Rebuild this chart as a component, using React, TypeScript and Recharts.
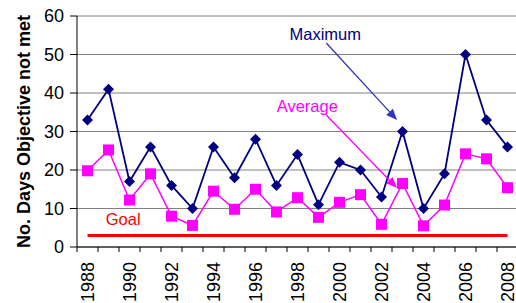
import { LineChart, Line, XAxis, YAxis, CartesianGrid, ReferenceLine, ReferenceDot } from "recharts";

const years = [1988, 1989, 1990, 1991, 1992, 1993, 1994, 1995, 1996, 1997, 1998, 1999, 2000, 2001, 2002, 2003, 2004, 2005, 2006, 2007, 2008];
const maximum = [33, 41, 17, 26, 16, 10, 26, 18, 28, 16, 24, 11, 22, 20, 13, 30, 10, 19, 50, 33, 26];
const average = [19.8, 25.2, 12.2, 19, 8, 5.6, 14.5, 9.8, 15, 9.1, 12.8, 7.7, 11.6, 13.6, 5.9, 16.5, 5.5, 10.9, 24.2, 22.9, 15.4];
const goal = 3;
const yTicks = [0, 10, 20, 30, 40, 50, 60];

const data = years.map((year, i) => ({
  year,
  maximum: maximum[i],
  average: average[i],
  goal,
}));

// boundaries (tick marks) and year centres (labels)
const xTicks = years.flatMap((y) => [y - 0.5, y]).concat([years[years.length - 1] + 0.5]);

const FONT = "Arial, 'Liberation Sans', sans-serif";
const TICK_SIZE = 5;
const TICK_GAP = 10;

function YearTick(props: any) {
  const { x, y, payload } = props;
  const v = payload.value as number;
  if (v % 1 !== 0) {
    return <line x1={x} x2={x} y1={y - TICK_GAP - TICK_SIZE} y2={y - TICK_GAP} stroke="#000" strokeWidth={1} />;
  }
  if (v % 2 !== 0) return null;
  return (
    <text
      x={x}
      y={y}
      dy="0.36em"
      transform={`rotate(-90, ${x}, ${y})`}
      textAnchor="end"
      fontSize={18}
      fontFamily={FONT}
      fill="#000"
    >
      {v}
    </text>
  );
}

function Diamond(props: any) {
  const { cx, cy } = props;
  if (cx == null || cy == null) return null;
  const r = 5.5;
  return <polygon points={`${cx},${cy - r} ${cx + r},${cy} ${cx},${cy + r} ${cx - r},${cy}`} fill="#000080" />;
}

function Square(props: any) {
  const { cx, cy } = props;
  if (cx == null || cy == null) return null;
  const s = 11;
  return <rect x={cx - s / 2} y={cy - s / 2} width={s} height={s} fill="#FF00FF" />;
}

function arrowNote(text: string, textColor: string, arrowColor: string, textDx: number) {
  return (props: any) => {
    const { x1, y1, x2, y2 } = props;
    const ang = Math.atan2(y2 - y1, x2 - x1);
    const len = 11;
    const half = 4.5;
    const bx = x2 - len * Math.cos(ang);
    const by = y2 - len * Math.sin(ang);
    const px = -Math.sin(ang) * half;
    const py = Math.cos(ang) * half;
    return (
      <g>
        <line x1={x1} y1={y1} x2={bx} y2={by} stroke={arrowColor} strokeWidth={1.3} />
        <polygon points={`${x2},${y2} ${bx + px},${by + py} ${bx - px},${by - py}`} fill={arrowColor} />
        <text x={x1 + textDx} y={y1 - 2.5} textAnchor="middle" fontSize={16.5} fontFamily={FONT} fill={textColor}>
          {text}
        </text>
      </g>
    );
  };
}

function GoalText(props: any) {
  const { cx, cy } = props;
  return (
    <text x={cx} y={cy} textAnchor="middle" fontSize={16.5} fontFamily={FONT} fill="#FF0000">
      Goal
    </text>
  );
}

export default function App() {
  return (
    <div style={{ position: "absolute", left: 0, top: 0, width: 516, height: 303, overflow: "hidden", background: "#fff" }}>
      <LineChart width={518} height={303} data={data} margin={{ top: 16, right: 0, bottom: 0, left: 0 }}>
        <CartesianGrid vertical={false} stroke="#808080" strokeWidth={1} />
        <XAxis
          dataKey="year"
          type="number"
          domain={[1987.5, 2008.5]}
          ticks={xTicks}
          interval={0}
          tick={<YearTick />}
          tickLine={false}
          tickSize={TICK_SIZE}
          tickMargin={TICK_GAP}
          height={56}
          axisLine={{ stroke: "#000", strokeWidth: 1 }}
        />
        <YAxis
          domain={[0, 60]}
          ticks={yTicks}
          interval={0}
          width={77}
          tickSize={7}
          tickMargin={6}
          tick={{ fontSize: 18, fontFamily: FONT, fill: "#000" }}
          tickLine={{ stroke: "#000" }}
          axisLine={{ stroke: "#000", strokeWidth: 1 }}
          label={{
            value: "No. Days Objective not met",
            angle: -90,
            position: "insideLeft",
            offset: 24,
            style: { textAnchor: "middle", fontSize: 18, fontWeight: "bold", fontFamily: FONT, fill: "#000" },
          }}
        />
        <Line dataKey="goal" stroke="#FF0000" strokeWidth={3} dot={false} isAnimationActive={false} />
        <Line dataKey="average" stroke="#FF00FF" strokeWidth={1.5} dot={<Square />} isAnimationActive={false} />
        <Line dataKey="maximum" stroke="#000080" strokeWidth={1.8} dot={<Diamond />} isAnimationActive={false} />
        <ReferenceLine
          segment={[{ x: 1999.37, y: 53 }, { x: 2002.74, y: 33 }]}
          ifOverflow="visible"
          shape={arrowNote("Maximum", "#000080", "#3333BB", -1)}
        />
        <ReferenceLine
          segment={[{ x: 1999.37, y: 34.3 }, { x: 2002.74, y: 15.3 }]}
          ifOverflow="visible"
          shape={arrowNote("Average", "#FF00FF", "#FF00FF", -19)}
        />
        <ReferenceDot x={1989.7} y={5.7} ifOverflow="visible" shape={<GoalText />} />
      </LineChart>
    </div>
  );
}
